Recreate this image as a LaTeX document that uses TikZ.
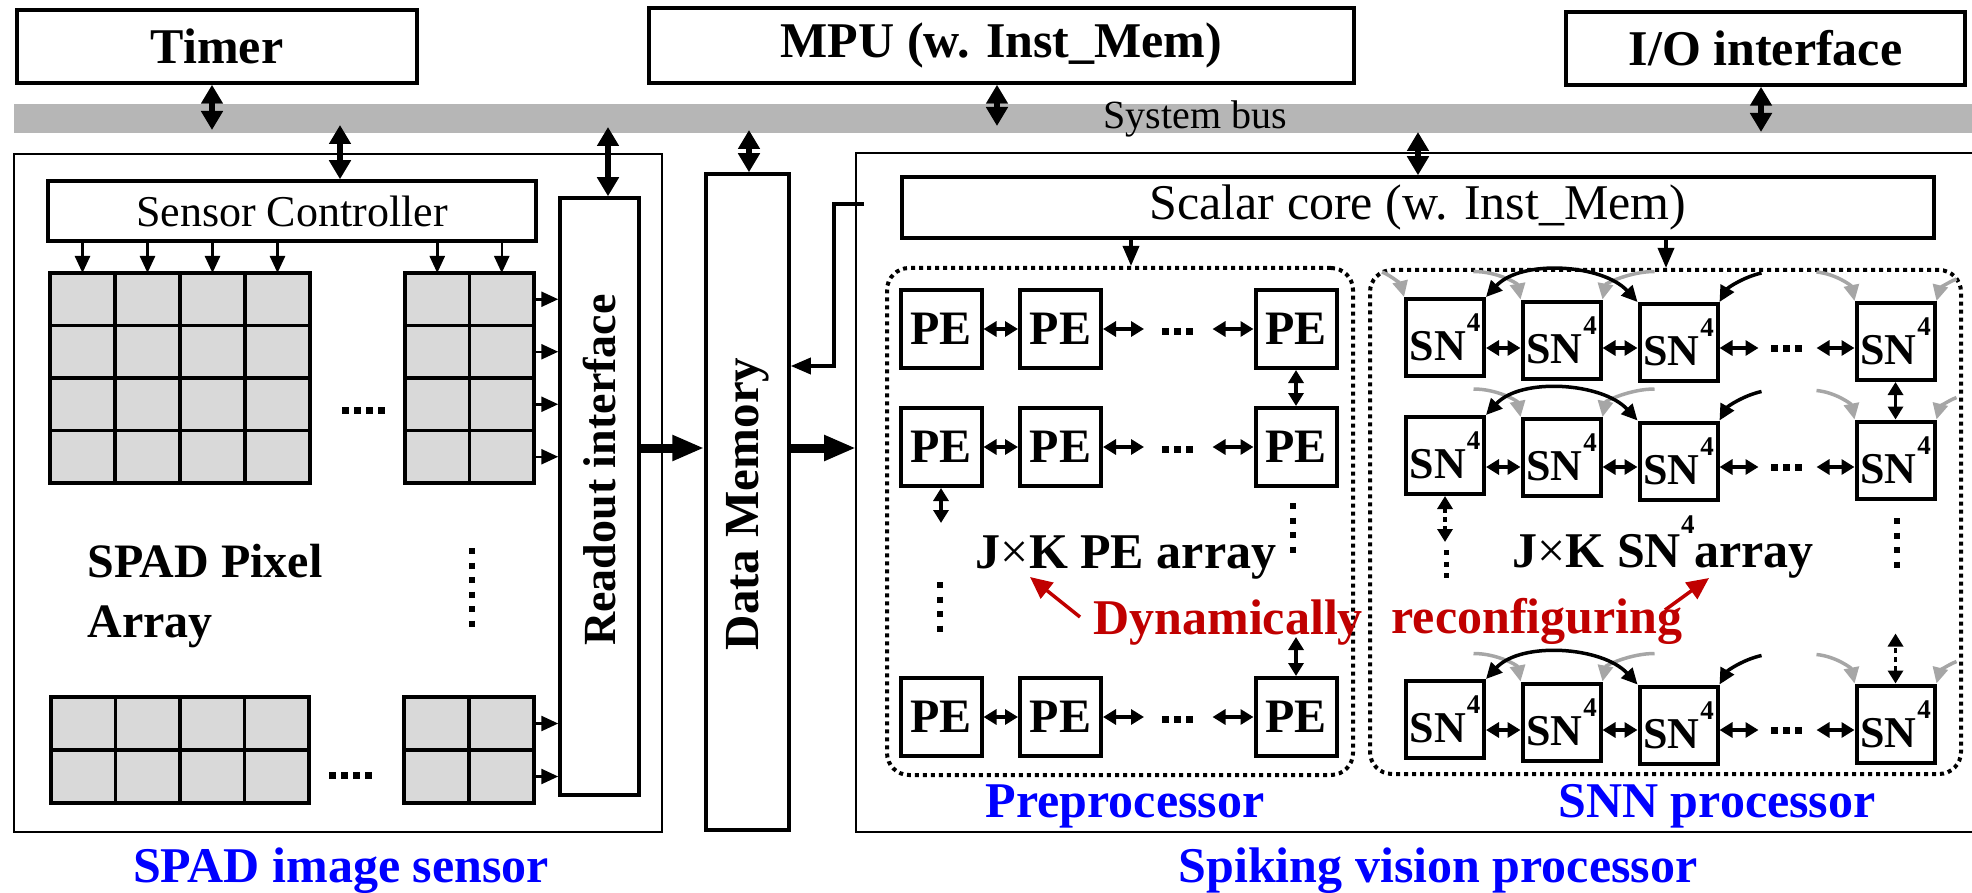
\documentclass[tikz,border=0pt]{standalone}
\usepackage{fontspec}
\setmainfont{Liberation Serif}
\usetikzlibrary{arrows.meta}
\definecolor{busgray}{RGB}{182,182,182}
\definecolor{pixgray}{RGB}{217,217,217}
\definecolor{wiregray}{RGB}{166,166,166}
\definecolor{notered}{RGB}{192,0,0}
\definecolor{capblue}{RGB}{0,0,255}
\newcommand{\fsz}[1]{\fontsize{#1}{#1}\selectfont}
\newcommand{\snlabel}{SN\kern1pt\raisebox{29pt}{\fsz{27}4}}
\begin{document}
\begin{tikzpicture}[x=1pt,y=-1pt,
  topbox/.style={draw,line width=3.5pt,inner sep=0pt,font=\fsz{50}\bfseries},
  blk/.style={draw,line width=3.5pt,inner sep=0pt,fill=white},
  framebox/.style={draw,line width=2.5pt,inner sep=0pt},
  pix/.style={draw,line width=3.5pt,fill=pixgray,inner sep=0pt,outer sep=0pt},
  pebox/.style={draw,line width=4pt,inner sep=0pt,minimum width=81pt,minimum height=78pt,font=\fsz{48}\bfseries},
  snbox/.style={draw,line width=4pt,inner sep=0pt,minimum width=78pt,minimum height=77pt,font=\fsz{44}\bfseries},
  dotframe/.style={draw,line width=4pt,dash pattern=on 4pt off 4pt,rounded corners=22pt,inner sep=0pt},
  busarrow/.style={line width=6.5pt,{Triangle[width=21pt,length=19pt]}-{Triangle[width=21pt,length=19pt]}},
  bigarrow/.style={line width=9pt,-{Triangle[width=24pt,length=32pt]}},
  ctlarrow/.style={line width=2.5pt,-{Triangle[width=15pt,length=17pt]}},
  link/.style={line width=3.5pt,-{Triangle[width=16pt,length=20pt]}},
  nbr/.style={line width=3.5pt,{Triangle[width=15pt,length=13pt]}-{Triangle[width=15pt,length=13pt]}},
  nbrdot/.style={nbr,dash pattern=on 5pt off 4pt},
  hdots/.style={line width=7pt,dash pattern=on 7pt off 5pt},
  vdots/.style={line width=6pt,dash pattern=on 6pt off 8.5pt},
  garc/.style={draw=wiregray,line width=3.5pt,-{Triangle[width=15pt,length=16pt]}},
  karc/.style={line width=3.5pt,-{Triangle[width=15pt,length=16pt]}},
  karcb/.style={line width=3.5pt,{Triangle[width=15pt,length=16pt]}-{Triangle[width=15pt,length=16pt]}},
  redarrow/.style={draw=notered,line width=3.5pt,-{Triangle[width=20pt,length=22pt]}},
  redtxt/.style={font=\fsz{50}\bfseries,text=notered},
  captxt/.style={font=\fsz{50}\bfseries,text=capblue}
]
\useasboundingbox (0,0) rectangle (1972,893);

% ---------- top level blocks and system bus ----------
\node[topbox,minimum width=400pt,minimum height=73pt] (timer) at (217,46.5) {Timer};
\node[topbox,minimum width=705pt,minimum height=75pt] (mpu) at (1001.5,45.5) {MPU (w. Inst\_Mem)};
\node[topbox,minimum width=399pt,minimum height=73pt] (io) at (1765.5,48.5) {I/O interface};
\node[fill=busgray,inner sep=0pt,minimum width=1958pt,minimum height=29pt] (bus) at (993,118.5) {};
\node[font=\fsz{40}] (buslbl) at (1195,119) {System bus};

\coordinate (b-timer) at (212,130);
\coordinate (b-mpu) at (997,126);
\coordinate (b-io) at (1761,132);
\coordinate (b-sc) at (340,125);
\coordinate (b-ro) at (608,127);
\coordinate (b-dm) at (749,130);
\coordinate (b-core) at (1418,132);

% ---------- SPAD image sensor ----------
\node[framebox,minimum width=648pt,minimum height=678pt] (spad) at (338,493) {};
\node[blk,minimum width=488pt,minimum height=60pt,font=\fsz{44}] (sctl) at (292,211) {Sensor Controller};
\node[blk,minimum width=79pt,minimum height=597pt] (ro) at (599.5,496.5) {};
\node[rotate=90,font=\fsz{46}\bfseries] (rolbl) at (600,470) {Readout interface};

% pixel array tiles
\foreach \r/\y in {1/299.25,2/351.75,3/404.25,4/456.75} {
  \foreach \c/\x in {1/82.5,2/147.5,3/212.5,4/277.5}
    \node[pix,minimum width=65pt,minimum height=52.5pt] (pa-\r-\c) at (\x,\y) {};
  \foreach \c/\x in {1/437.25,2/501.75}
    \node[pix,minimum width=64.5pt,minimum height=52.5pt] (pb-\r-\c) at (\x,\y) {};
}
\foreach \r/\y in {1/723.5,2/776.5} {
  \foreach \c/\x in {1/83.25,2/147.75,3/212.25,4/276.75}
    \node[pix,minimum width=64.5pt,minimum height=53pt] (pc-\r-\c) at (\x,\y) {};
  \foreach \c/\x in {1/436.5,2/501.5}
    \node[pix,minimum width=65pt,minimum height=53pt] (pd-\r-\c) at (\x,\y) {};
}
\foreach \c in {1,...,4}
  \draw[ctlarrow] (sctl.south -| pa-1-\c.north) -- (pa-1-\c.north);
\foreach \c in {1,2}
  \draw[ctlarrow] (sctl.south -| pb-1-\c.north) -- (pb-1-\c.north);
\foreach \r in {1,...,4}
  \draw[ctlarrow] (pb-\r-2.east) -- (pb-\r-2.east -| ro.west);
\foreach \r in {1,2}
  \draw[ctlarrow] (pd-\r-2.east) -- (pd-\r-2.east -| ro.west);

\draw[hdots] (342,410) -- (387,410);
\draw[hdots] (329,775) -- (374,775);
\draw[vdots] (472,548) -- (472,628);

\node[anchor=base west,font=\fsz{48}\bfseries] (spadlbl) at (84,577) {SPAD Pixel};
\node[anchor=base west,font=\fsz{48}\bfseries] (spadlbl2) at (84,637) {Array};
\node[anchor=base,captxt] (spadcap) at (341,882) {SPAD image sensor};

% ---------- data memory ----------
\node[blk,minimum width=83pt,minimum height=656pt] (dm) at (747.5,502) {};
\node[rotate=90,font=\fsz{49}\bfseries] (dmlbl) at (748,504) {Data Memory};

% ---------- spiking vision processor ----------
\draw[line width=2.5pt] (1975,153) -- (856,153) -- (856,832) -- (1975,832);
\coordinate (spv-w) at (856,448);
\node[blk,minimum width=1032pt,minimum height=61pt,font=\fsz{50}] (core) at (1418,207.5) {Scalar core (w. Inst\_Mem)};

% bus connections
\draw[busarrow] (timer.south -| b-timer) -- (b-timer);
\draw[busarrow] (mpu.south -| b-mpu) -- (b-mpu);
\draw[busarrow] (io.south -| b-io) -- (b-io);
\draw[busarrow] (b-sc) -- (b-sc |- sctl.north);
\draw[busarrow] (b-ro) -- (b-ro |- ro.north);
\draw[busarrow] (b-dm) -- (b-dm |- dm.north);
\draw[busarrow] (b-core) -- (b-core |- core.north);

% data paths
\draw[bigarrow] (ro.east |- spv-w) -- (dm.west |- spv-w);
\draw[bigarrow] (dm.east |- spv-w) -- (spv-w);
\coordinate (lnk-a) at (864,204);
\coordinate (lnk-b) at (834,366);
\draw[link] (lnk-a) -| (lnk-b) -- (lnk-b -| dm.east);

% preprocessor and SNN regions
\node[dotframe,minimum width=466pt,minimum height=507pt] (pre) at (1120,521.5) {};
\node[dotframe,minimum width=591pt,minimum height=504pt] (snn) at (1665.5,522) {};
\coordinate (c-pre) at (1131,0);
\coordinate (c-snn) at (1666,0);
\draw[link] (core.south -| c-pre) -- (pre.north -| c-pre);
\draw[link] (core.south -| c-snn) -- (snn.north -| c-snn);

% PE array
\foreach \r/\y in {1/329,2/447,3/717}
  \foreach \c/\x in {1/941,2/1060.5,3/1296}
    \node[pebox] (pe-\r-\c) at (\x,\y) {PE};
\foreach \r in {1,2,3} {
  \draw[nbr] (pe-\r-1.east) -- (pe-\r-2.west);
  \draw[nbr] (pe-\r-2.east) -- ++(41,0);
  \draw[nbr] (pe-\r-3.west) -- ++(-41,0);
}
\foreach \y in {331,449,719}
  \draw[hdots] (1162,\y) -- (1193,\y);
\draw[nbr] (pe-1-3.south) -- (pe-2-3.north);
\draw[nbr] (pe-2-1.south) -- ++(0,35);
\draw[vdots] (940,582) -- (940,637);
\draw[vdots] (1293,503) -- (1293,558);
\draw[nbr] (pe-3-3.north) -- ++(0,-39);

\node[anchor=base,font=\fsz{50}\bfseries] (pearr) at (1126,568) {J{\mdseries ×}K PE array};
\node[anchor=base west,redtxt] (dyn) at (1090,634) {Dynamically};
\coordinate (dyn-tail) at (1080,617);
\coordinate (dyn-tip) at (1030,577);
\draw[redarrow] (dyn-tail) -- (dyn-tip);
\node[anchor=base,captxt] (precap) at (1125,817) {Preprocessor};

% SN array
\foreach \r/\ya/\yb/\yc/\yd in {1/337.5/340/342.5/341.5,2/455.5/457.5/461/460,3/719.5/722/725/724} {
  \node[snbox] (sn-\r-1) at (1445,\ya) {\snlabel};
  \node[snbox] (sn-\r-2) at (1561.5,\yb) {\snlabel};
  \node[snbox] (sn-\r-3) at (1678.5,\yc) {\snlabel};
  \node[snbox] (sn-\r-4) at (1895.5,\yd) {\snlabel};
}
\foreach \r/\y in {1/348,2/467,3/730} {
  \coordinate (ry-\r) at (0,\y);
  \draw[nbr] (sn-\r-1.east |- ry-\r) -- (sn-\r-2.west |- ry-\r);
  \draw[nbr] (sn-\r-2.east |- ry-\r) -- (sn-\r-3.west |- ry-\r);
  \draw[nbr] (sn-\r-3.east |- ry-\r) -- ++(39,0);
  \draw[nbr] (sn-\r-4.west |- ry-\r) -- ++(-38,0);
  \draw[hdots] (1771,\y) -- (1803,\y);
}
\draw[nbr] (sn-1-4.south) -- (sn-2-4.north);
\draw[nbrdot] (sn-2-1.south) -- ++(0,46);
\draw[line width=5pt,dash pattern=on 5pt off 6.5pt] (1446,550) -- (1446,578);
\draw[vdots] (1897,518) -- (1897,575);
\draw[nbrdot] (sn-3-4.north) -- ++(0,-50);

% spike routing between neighbours
\draw[garc] ([shift={(-22,-25)}]sn-1-1.north west) .. controls +(10,4) and +(-3,-12) .. (sn-1-1.north west);
\foreach \r in {1,2,3} {
  \draw[garc] ([shift={(-47,-28)}]sn-\r-2.north west) .. controls +(24,0) and +(-3,-16) .. (sn-\r-2.north west);
  \draw[garc] ([shift={(52,-28)}]sn-\r-2.north east) .. controls +(-24,0) and +(3,-16) .. (sn-\r-2.north east);
  \draw[karcb] (sn-\r-1.north east) .. controls +(35,-38) and +(-35,-38) .. (sn-\r-3.north west);
  \draw[karc] ([shift={(42,-29)}]sn-\r-3.north east) .. controls +(-18,4) and +(8,-14) .. (sn-\r-3.north east);
  \draw[garc] ([shift={(-38,-29)}]sn-\r-4.north west) .. controls +(20,2) and +(-3,-15) .. (sn-\r-4.north west);
  \draw[garc] ([shift={(20,-22)}]sn-\r-4.north east) .. controls +(-10,4) and +(3,-12) .. (sn-\r-4.north east);
}

\node[anchor=base west,font=\fsz{50}\bfseries] (snarr) at (1509,567) {J{\mdseries ×}K SN\raisebox{34pt}{\fsz{27}4}array};
\node[anchor=base west,redtxt] (reconf) at (1388,633) {reconfiguring};
\coordinate (rec-tail) at (1665,610);
\coordinate (rec-tip) at (1709,578);
\draw[redarrow] (rec-tail) -- (rec-tip);
\node[anchor=base,captxt] (snncap) at (1717,817) {SNN processor};
\node[anchor=base,captxt] (spvcap) at (1438,882) {Spiking vision processor};
\end{tikzpicture}
\end{document}
